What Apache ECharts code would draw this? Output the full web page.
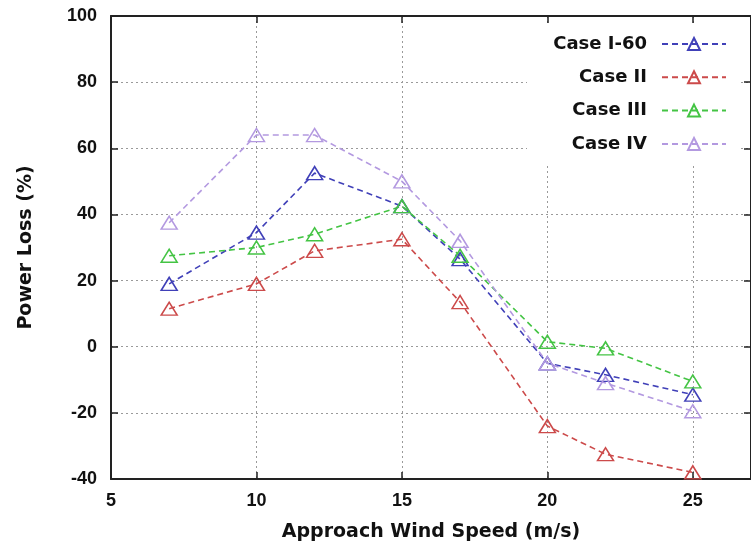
<!DOCTYPE html>
<html>
<head>
<meta charset="utf-8">
<script src="https://cdn.jsdelivr.net/npm/echarts@6/dist/echarts.min.js"></script>
<style>html,body{margin:0;padding:0;background:#fff}#c{width:751px;height:548px}</style>
</head>
<body>
<div id="c"></div>
<script>
const windSpeed = [7, 10, 12, 15, 17, 20, 22, 25];
const caseI60 = [19, 34.5, 52.5, 42.5, 26.5, -5, -8.5, -14.5];
const caseII = [11.5, 19, 29, 32.5, 13.5, -24, -32.5, -38];
const caseIII = [27.5, 30, 34, 42.5, 27.5, 1.5, -0.5, -10.5];
const caseIV = [37.5, 64, 64, 50, 32, -5, -11, -19.5];
const seriesNames = ['Case I-60', 'Case II', 'Case III', 'Case IV'];
const seriesColors = ['#4040b8', '#cc4a4a', '#44c444', '#b399e0'];
const xTitle = 'Approach Wind Speed (m/s)';
const yTitle = 'Power Loss (%)';

const allData = [caseI60, caseII, caseIII, caseIV];
const font = '"Liberation Sans", Arial, Helvetica, sans-serif';
const wideFont = '"DejaVu Sans", "Liberation Sans", sans-serif';
const frame = {show: true, onZero: false, lineStyle: {color: '#222', width: 2}};
const tick = {show: true, inside: true, length: 7, lineStyle: {color: '#222', width: 1.5}};
const split = {show: true, lineStyle: {color: '#9a9a9a', type: [2, 3], width: 1}};

const chart = echarts.init(document.getElementById('c'));
chart.setOption({
  animation: false,
  backgroundColor: '#fff',
  grid: {left: 111, right: -2, top: 16, bottom: 69, containLabel: false},
  graphic: [{type: 'rect', shape: {x: 527, y: 25, width: 214, height: 140}, style: {fill: '#fff'}, z: 1}],
  xAxis: [
    {type: 'value', min: 5, max: 27, interval: 5, position: 'bottom',
     axisLine: frame, axisTick: tick, splitLine: split,
     axisLabel: {showMaxLabel: false, color: '#111', fontFamily: font, fontWeight: 'bold', fontSize: 18, margin: 13},
     name: xTitle, nameLocation: 'middle', nameGap: 44,
     nameTextStyle: {color: '#111', fontFamily: wideFont, fontWeight: 'bold', fontSize: 19}},
    {type: 'value', min: 5, max: 27, interval: 5, position: 'top',
     axisLine: frame, axisTick: tick, splitLine: {show: false}, axisLabel: {show: false}}
  ],
  yAxis: [
    {type: 'value', min: -40, max: 100, interval: 20, position: 'left',
     axisLine: frame, axisTick: tick, splitLine: split,
     axisLabel: {color: '#111', fontFamily: font, fontWeight: 'bold', fontSize: 18, margin: 14},
     name: yTitle, nameLocation: 'middle', nameGap: 75,
     nameTextStyle: {color: '#111', fontFamily: wideFont, fontWeight: 'bold', fontSize: 19}},
    {type: 'value', min: -40, max: 100, interval: 20, position: 'right',
     axisLine: frame, axisTick: tick, splitLine: {show: false}, axisLabel: {show: false}}
  ],
  legend: seriesNames.map((n, i) => ({
    data: [n], orient: 'vertical', right: 24, top: 35 + i * 33.3, padding: 0,
    align: 'right', itemWidth: 64, itemHeight: 15, z: 5,
    textStyle: {color: '#111', fontFamily: wideFont, fontWeight: 'bold', fontSize: 18, padding: [0, 10, 0, 0]}
  })),
  series: seriesNames.map((n, i) => ({
    name: n, type: 'line', xAxisIndex: 0, yAxisIndex: 0,
    data: windSpeed.map((x, j) => [x, allData[i][j]]),
    color: seriesColors[i],
    symbol: 'triangle', symbolSize: [16, 13],
    lineStyle: {color: seriesColors[i], width: 1.6, type: [6, 4]},
    itemStyle: {color: 'rgba(255,255,255,0)', borderColor: seriesColors[i], borderWidth: 1.5},
    z: 3
  }))
});
</script>
</body>
</html>
